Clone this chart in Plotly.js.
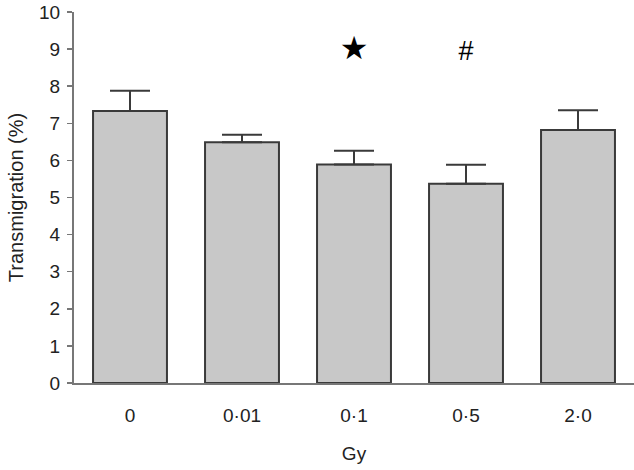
<!DOCTYPE html>
<html>
<head>
<meta charset="utf-8">
<script src="https://cdn.plot.ly/plotly-3.0.1.min.js"></script>
<style>
  html, body { margin: 0; padding: 0; background: #fff; }
  #chart { width: 634px; height: 470px; }
</style>
</head>
<body>
<div id="chart"></div>
<script>
// dose groups and transmigration means with SEM
var doses = ["0", "0·01", "0·1", "0·5", "2·0"];
var transmigration = [7.33, 6.49, 5.89, 5.37, 6.82];
var sem = [0.55, 0.2, 0.37, 0.51, 0.53];

// significance markers
var markDoses = ["0·1", "0·5"];
var markY = [8.95, 8.9];
var markText = ["★", "#"];

var bars = {
  x: doses,
  y: transmigration,
  type: "bar",
  width: 0.66,
  marker: {
    color: "#c8c8c8",
    line: { color: "#3a3a3a", width: 2 }
  },
  error_y: {
    type: "data",
    array: sem,
    symmetric: false,
    arrayminus: [0, 0, 0, 0, 0],
    color: "#3a3a3a",
    thickness: 2,
    width: 20
  },
  hoverinfo: "none"
};

var marks = {
  x: markDoses,
  y: markY,
  type: "scatter",
  mode: "text",
  text: markText,
  textfont: { family: ["DejaVu Sans", "Liberation Sans"], size: [32, 27], color: "#000" },
  hoverinfo: "none"
};

var layout = {
  width: 634,
  height: 470,
  margin: { l: 74, r: 0, t: 12, b: 87 },
  showlegend: false,
  paper_bgcolor: "#fff",
  plot_bgcolor: "#fff",
  font: { family: "Liberation Sans, Arial, sans-serif", color: "#222", size: 19 },
  xaxis: {
    type: "category",
    range: [-0.5, 4.5],
    showline: true,
    linecolor: "#777",
    linewidth: 2,
    ticks: "",
    showgrid: false,
    zeroline: false,
    ticklabelstandoff: 14,
    title: { text: "Gy", standoff: 22, font: { size: 19 } }
  },
  yaxis: {
    range: [0, 10],
    dtick: 1,
    showline: true,
    linecolor: "#777",
    linewidth: 2,
    ticks: "outside",
    ticklen: 5,
    tickwidth: 1.5,
    tickcolor: "#777",
    ticklabelstandoff: 3,
    showgrid: false,
    zeroline: false,
    title: { text: "Transmigration (%)", standoff: 10, font: { size: 20 } }
  }
};

Plotly.newPlot("chart", [bars, marks], layout, { displayModeBar: false, staticPlot: true });
</script>
</body>
</html>
